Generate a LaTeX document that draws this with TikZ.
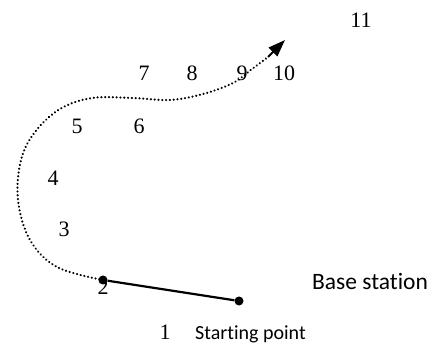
\documentclass[tikz,border=0pt]{standalone}
\usepackage{fontspec}
\setmainfont{Liberation Serif}
\newfontfamily\labelfont[Ligatures=NoCommon]{Carlito}
\usetikzlibrary{arrows.meta}
\begin{document}
\begin{tikzpicture}[x=1pt,y=1pt,
  num/.style={font=\fontsize{22}{26}\selectfont, inner sep=0pt},
  lbl/.style={font=\labelfont\fontsize{23.5}{28}\selectfont, inner sep=0pt},
  smalllbl/.style={font=\labelfont\fontsize{20}{24}\selectfont, inner sep=0pt},
  station/.style={circle, fill=black, inner sep=0pt, minimum size=9pt},
  route/.style={line width=2.4pt, line cap=round, dash pattern=on 0.01pt off 3.8pt},
  link/.style={line width=2.2pt}]
\useasboundingbox (0,0) rectangle (433,345);
\node[num] (n11) at (361,325) {11};
\node[num] (n7) at (144,272) {7};
\node[num] (n8) at (192,272) {8};
\node[num] (n9) at (242,272) {9};
\node[num] (n10) at (284,272) {10};
\node[num] (n5) at (77,219) {5};
\node[num] (n6) at (139,219) {6};
\node[num] (n4) at (53,167) {4};
\node[num] (n3) at (64,116) {3};
\node[num] (n2) at (103,58) {2};
\node[num, anchor=base] (n1) at (165,6) {1};
\node[smalllbl, anchor=base west] (sp) at (195,6) {Starting point};
\node[lbl] (bs) at (370,63) {Base station};
\node[station] (A) at (103,65) {};
\node[station] (B) at (239,44) {};
\coordinate (tip) at (285,305);
\draw[link] (A) -- (B);
\draw[route] plot[smooth, tension=0.6] coordinates {(A.center) (57,78) (30,105) (18,145) (21,185) (35,213) (60,236) (92,247) (133,247) (170,245) (203,251) (233,262) (252,276) (268,288)};
\draw[line width=2pt, -{Triangle[length=17pt,width=12pt]}] (268,288) -- (tip);
\end{tikzpicture}
\end{document}
